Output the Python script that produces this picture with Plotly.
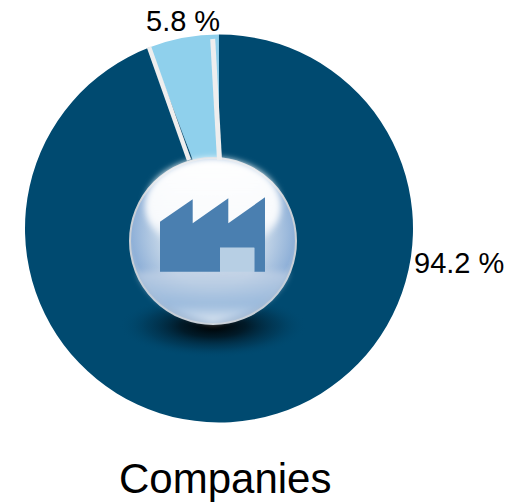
import base64
import plotly.graph_objects as go

categories = ["Other", "Companies"]
shares = [5.8, 94.2]
labels = ["5.8 %", "94.2 %"]
title_text = "Companies"
W, H = 519, 502

svg = f'''<svg xmlns="http://www.w3.org/2000/svg" width="{W}" height="{H}" viewBox="0 0 {W} {H}">
<defs>
<radialGradient id="sh" cx="50%" cy="50%" r="50%">
<stop offset="0%" stop-color="#000" stop-opacity="1"/><stop offset="35%" stop-color="#01121c" stop-opacity=".85"/>
<stop offset="70%" stop-color="#012c44" stop-opacity=".45"/>
<stop offset="100%" stop-color="#004a70" stop-opacity="0"/></radialGradient>
<radialGradient id="base" gradientUnits="userSpaceOnUse" cx="213" cy="232" r="92">
<stop offset="0%" stop-color="#d2deeb"/><stop offset="60%" stop-color="#bfd2e6"/>
<stop offset="88%" stop-color="#90b1d8"/><stop offset="100%" stop-color="#a9bdd4"/></radialGradient>
<linearGradient id="top" x1="0" y1="0" x2="0" y2="1">
<stop offset="0%" stop-color="#fff" stop-opacity="1"/><stop offset="65%" stop-color="#fff" stop-opacity=".9"/>
<stop offset="100%" stop-color="#fff" stop-opacity=".1"/></linearGradient>
<linearGradient id="bot" x1="0" y1="0" x2="0" y2="1">
<stop offset="0%" stop-color="#c8d5e6" stop-opacity=".7"/><stop offset="65%" stop-color="#9dbcdd" stop-opacity=".85"/>
<stop offset="100%" stop-color="#e4ecf5" stop-opacity=".95"/></linearGradient>
<filter id="b"><feGaussianBlur stdDeviation="3"/></filter>
</defs>
<ellipse cx="213" cy="326" rx="94" ry="32" fill="url(#sh)"/>
<circle cx="213" cy="241" r="83" fill="url(#base)" stroke="#c9cfd6" stroke-width="2"/>
<path d="M137 272 Q213 268 289 272 Q275 310 213 323 Q151 310 137 272Z" fill="url(#bot)" filter="url(#b)"/>
<ellipse cx="213" cy="206" rx="68" ry="48" fill="url(#top)" filter="url(#b)"/>
<path d="M160 271.7V221.7L192.7 199.3V223.3L228.3 198.3V223.3L265 197.3V271.7H254.3V247.7H220V271.7Z" fill="#4a7fb0"/>
<rect x="220" y="247.7" width="34.3" height="24" fill="#b7cfe4"/>
</svg>'''
src = "data:image/svg+xml;base64," + base64.b64encode(svg.encode()).decode()

fig = go.Figure(go.Pie(
    labels=categories, values=shares, sort=False, direction="clockwise", rotation=-20.9,
    textinfo="none", hoverinfo="skip", showlegend=False,
    marker=dict(colors=["#8fd0ec", "#004a70"], line=dict(width=0)),
    domain=dict(x=[25/W, 413/W], y=[1-423/H, 1-34/H]),
))

def px(x): return x / W
def py(y): return 1 - y / H

stripes = [(149, 47, 189, 160, 4.5), (212.7, 39, 219.5, 160, 5)]
shapes = [dict(type="line", xref="paper", yref="paper", x0=px(a), y0=py(b), x1=px(c), y1=py(d),
               line=dict(color="#eeeeee", width=w)) for a, b, c, d, w in stripes]

font = "Liberation Sans, Arial, sans-serif"
ann = [
    dict(text=labels[0], x=px(182.5), y=py(21), font=dict(size=29)),
    dict(text=labels[1], x=px(458.5), y=py(263), font=dict(size=29)),
    dict(text=title_text, x=px(225), y=py(478), font=dict(size=42)),
]
for a in ann:
    a.update(xref="paper", yref="paper", showarrow=False, xanchor="center", yanchor="middle")
    a["font"].update(family=font, color="#000")

fig.update_layout(
    width=W, height=H, margin=dict(l=0, r=0, t=0, b=0), paper_bgcolor="white",
    shapes=shapes, annotations=ann,
    images=[dict(source=src, xref="paper", yref="paper", x=0, y=1, sizex=1, sizey=1,
                 sizing="stretch", xanchor="left", yanchor="top", layer="above")],
)
fig.write_html("out.html", config=dict(displayModeBar=False),
               post_script="document.body.style.margin='0';document.documentElement.style.overflow='hidden';")
